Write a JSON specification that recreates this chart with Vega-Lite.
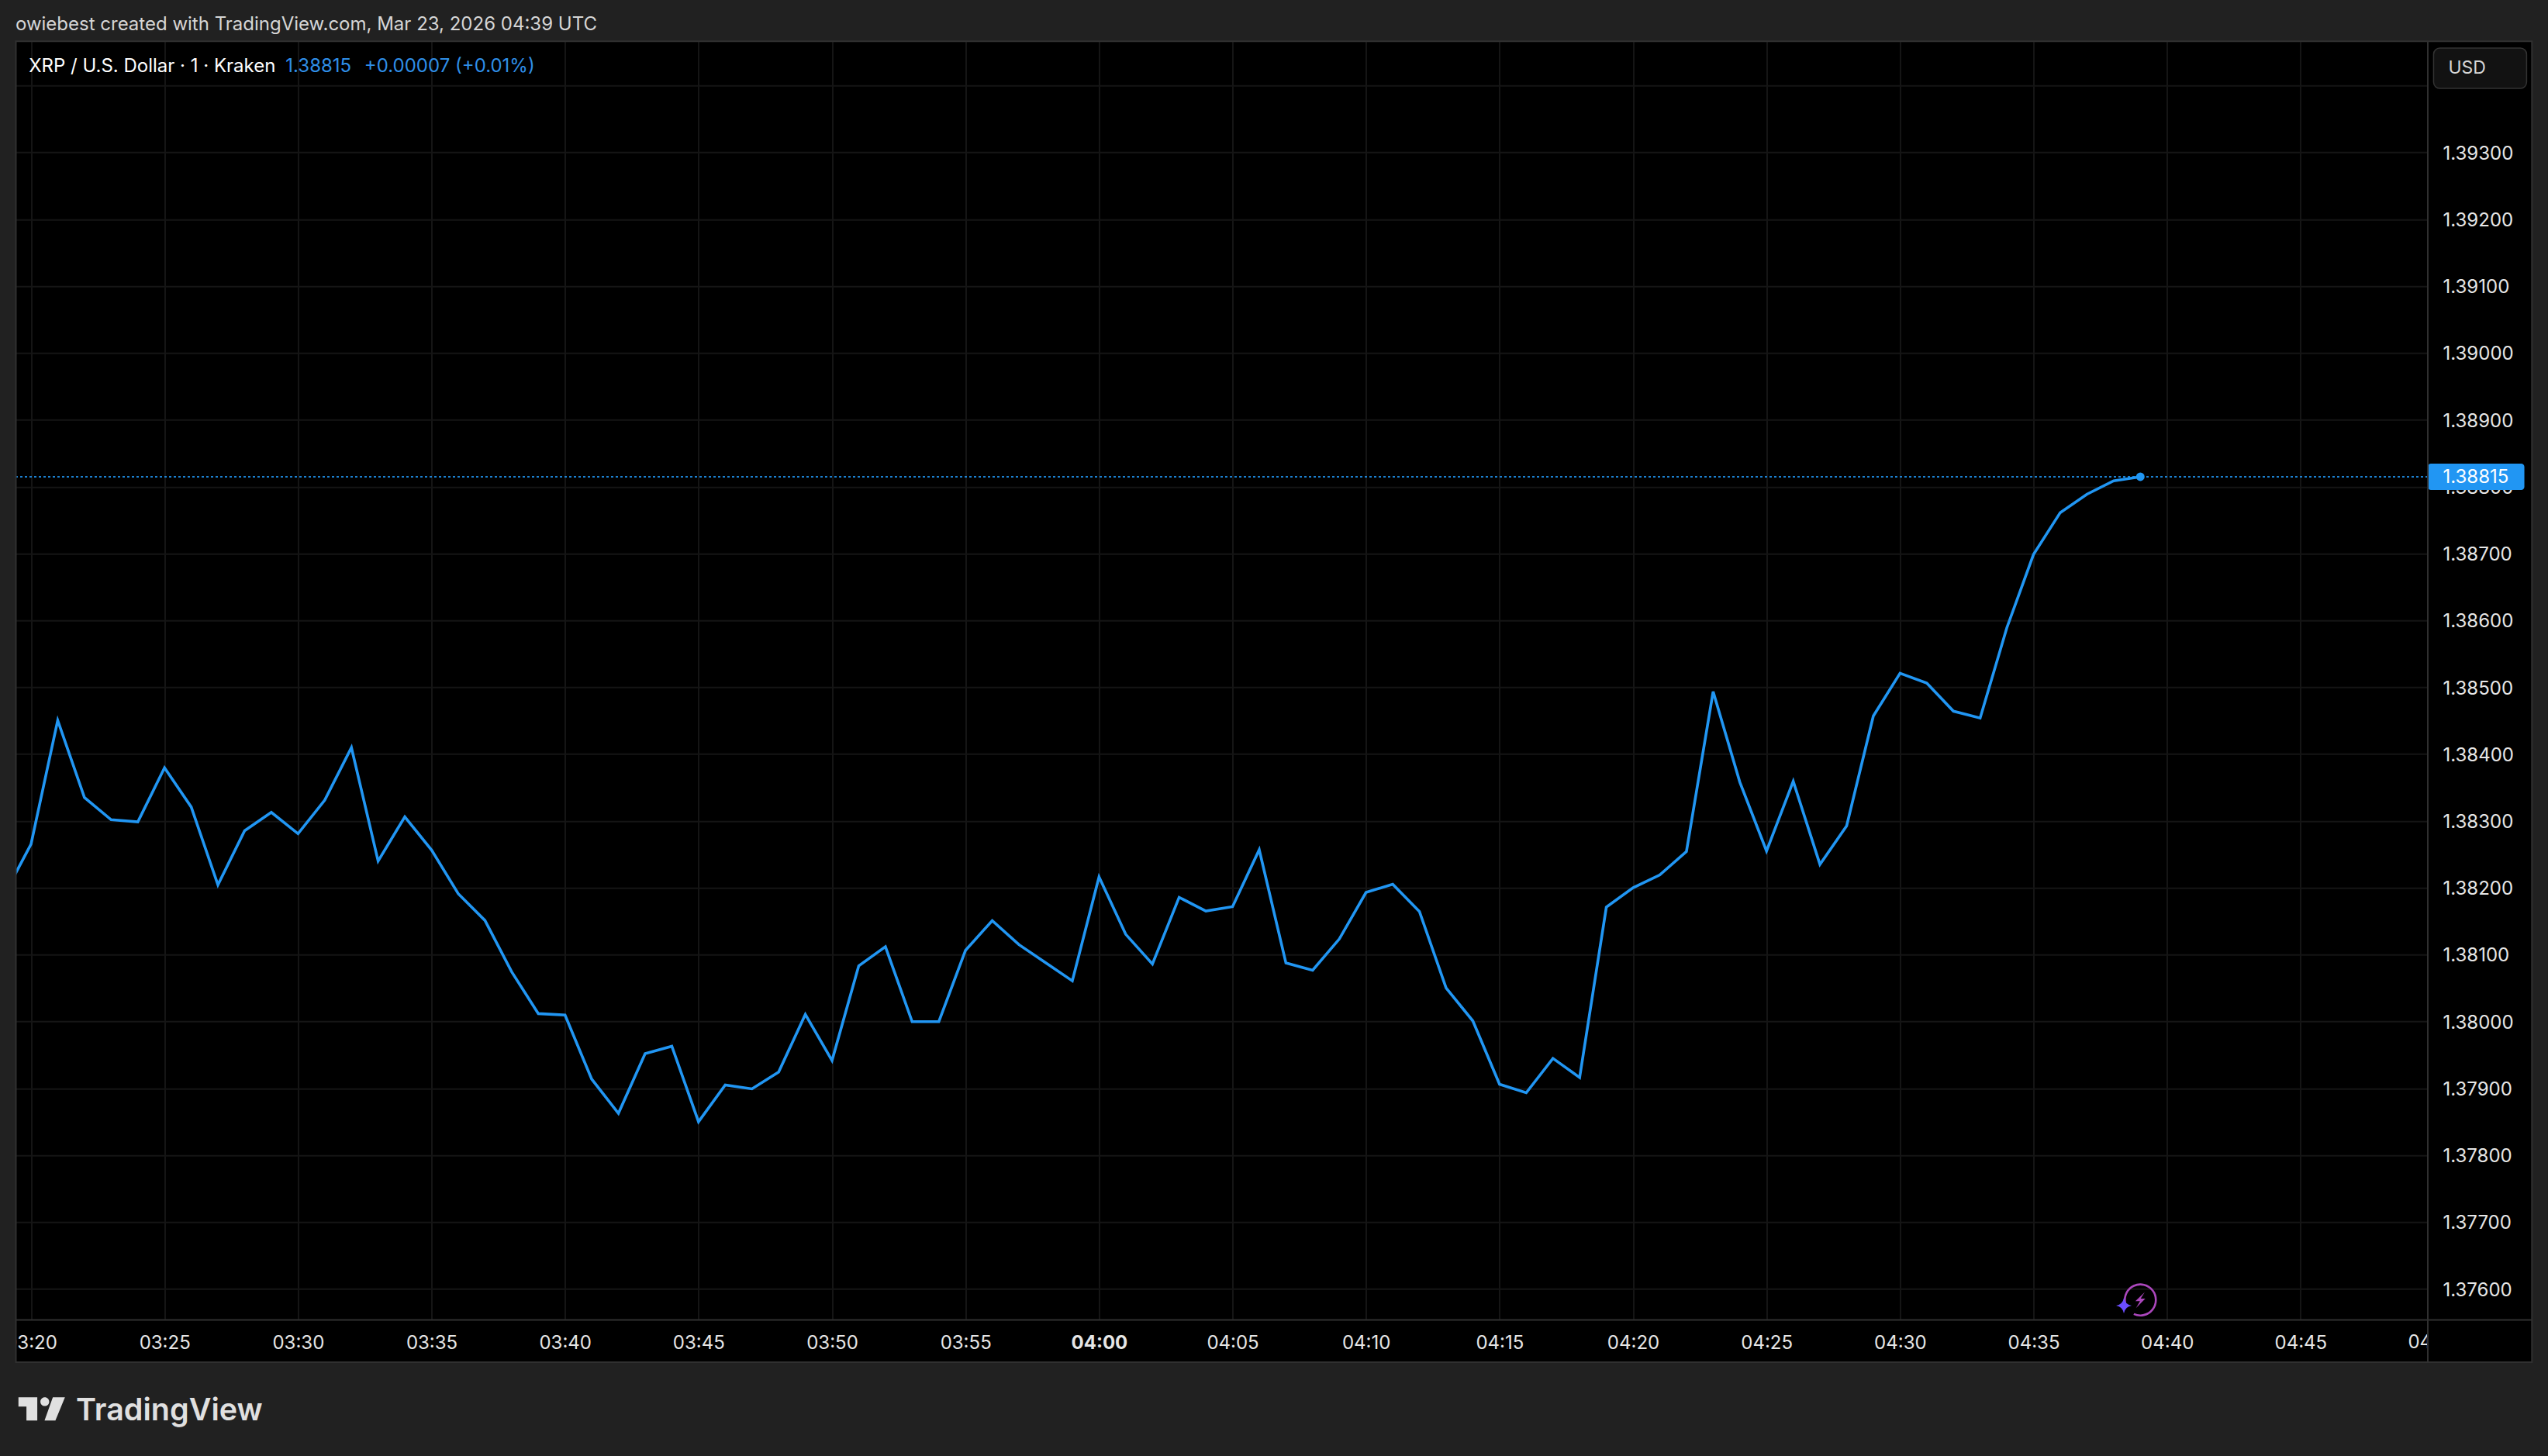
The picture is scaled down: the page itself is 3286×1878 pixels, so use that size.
{"$schema": "https://vega.github.io/schema/vega-lite/v6.json",
  "width": 3110.5,
  "height": 1649.2,
  "autosize": "none",
  "padding": {"left": 20.5, "top": 53.3, "right": 155, "bottom": 175.5},
  "background": "#000000",
  "config": {"view": {"stroke": null}, "font": "Inter"},
  "datasets": {
    "one": [{}],
    "quote": [
      {"time": "2026-03-23T03:19:00Z", "price": 1.3819},
      {"time": "2026-03-23T03:20:00Z", "price": 1.382655},
      {"time": "2026-03-23T03:21:00Z", "price": 1.384507},
      {"time": "2026-03-23T03:22:00Z", "price": 1.383353},
      {"time": "2026-03-23T03:23:00Z", "price": 1.38302},
      {"time": "2026-03-23T03:24:00Z", "price": 1.382988},
      {"time": "2026-03-23T03:25:00Z", "price": 1.383797},
      {"time": "2026-03-23T03:26:00Z", "price": 1.38321},
      {"time": "2026-03-23T03:27:00Z", "price": 1.382047},
      {"time": "2026-03-23T03:28:00Z", "price": 1.382855},
      {"time": "2026-03-23T03:29:00Z", "price": 1.383131},
      {"time": "2026-03-23T03:30:00Z", "price": 1.382811},
      {"time": "2026-03-23T03:31:00Z", "price": 1.383313},
      {"time": "2026-03-23T03:32:00Z", "price": 1.384099},
      {"time": "2026-03-23T03:33:00Z", "price": 1.382402},
      {"time": "2026-03-23T03:34:00Z", "price": 1.383064},
      {"time": "2026-03-23T03:35:00Z", "price": 1.382567},
      {"time": "2026-03-23T03:36:00Z", "price": 1.381914},
      {"time": "2026-03-23T03:37:00Z", "price": 1.381514},
      {"time": "2026-03-23T03:38:00Z", "price": 1.380746},
      {"time": "2026-03-23T03:39:00Z", "price": 1.38012},
      {"time": "2026-03-23T03:40:00Z", "price": 1.380098},
      {"time": "2026-03-23T03:41:00Z", "price": 1.379139},
      {"time": "2026-03-23T03:42:00Z", "price": 1.378628},
      {"time": "2026-03-23T03:43:00Z", "price": 1.37952},
      {"time": "2026-03-23T03:44:00Z", "price": 1.379632},
      {"time": "2026-03-23T03:45:00Z", "price": 1.378503},
      {"time": "2026-03-23T03:46:00Z", "price": 1.379052},
      {"time": "2026-03-23T03:47:00Z", "price": 1.378994},
      {"time": "2026-03-23T03:48:00Z", "price": 1.379245},
      {"time": "2026-03-23T03:49:00Z", "price": 1.380108},
      {"time": "2026-03-23T03:50:00Z", "price": 1.379419},
      {"time": "2026-03-23T03:51:00Z", "price": 1.380835},
      {"time": "2026-03-23T03:52:00Z", "price": 1.381121},
      {"time": "2026-03-23T03:53:00Z", "price": 1.38},
      {"time": "2026-03-23T03:54:00Z", "price": 1.38},
      {"time": "2026-03-23T03:55:00Z", "price": 1.381067},
      {"time": "2026-03-23T03:56:00Z", "price": 1.381511},
      {"time": "2026-03-23T03:57:00Z", "price": 1.381152},
      {"time": "2026-03-23T03:58:00Z", "price": 1.380881},
      {"time": "2026-03-23T03:59:00Z", "price": 1.38061},
      {"time": "2026-03-23T04:00:00Z", "price": 1.382165},
      {"time": "2026-03-23T04:01:00Z", "price": 1.381306},
      {"time": "2026-03-23T04:02:00Z", "price": 1.380862},
      {"time": "2026-03-23T04:03:00Z", "price": 1.381859},
      {"time": "2026-03-23T04:04:00Z", "price": 1.381654},
      {"time": "2026-03-23T04:05:00Z", "price": 1.38172},
      {"time": "2026-03-23T04:06:00Z", "price": 1.382571},
      {"time": "2026-03-23T04:07:00Z", "price": 1.380877},
      {"time": "2026-03-23T04:08:00Z", "price": 1.380769},
      {"time": "2026-03-23T04:09:00Z", "price": 1.381237},
      {"time": "2026-03-23T04:10:00Z", "price": 1.381933},
      {"time": "2026-03-23T04:11:00Z", "price": 1.382056},
      {"time": "2026-03-23T04:12:00Z", "price": 1.381647},
      {"time": "2026-03-23T04:13:00Z", "price": 1.380502},
      {"time": "2026-03-23T04:14:00Z", "price": 1.380011},
      {"time": "2026-03-23T04:15:00Z", "price": 1.379063},
      {"time": "2026-03-23T04:16:00Z", "price": 1.378936},
      {"time": "2026-03-23T04:17:00Z", "price": 1.37945},
      {"time": "2026-03-23T04:18:00Z", "price": 1.379164},
      {"time": "2026-03-23T04:19:00Z", "price": 1.381712},
      {"time": "2026-03-23T04:20:00Z", "price": 1.382002},
      {"time": "2026-03-23T04:21:00Z", "price": 1.382194},
      {"time": "2026-03-23T04:22:00Z", "price": 1.382544},
      {"time": "2026-03-23T04:23:00Z", "price": 1.384936},
      {"time": "2026-03-23T04:24:00Z", "price": 1.383582},
      {"time": "2026-03-23T04:25:00Z", "price": 1.382552},
      {"time": "2026-03-23T04:26:00Z", "price": 1.383595},
      {"time": "2026-03-23T04:27:00Z", "price": 1.382352},
      {"time": "2026-03-23T04:28:00Z", "price": 1.382929},
      {"time": "2026-03-23T04:29:00Z", "price": 1.384572},
      {"time": "2026-03-23T04:30:00Z", "price": 1.385211},
      {"time": "2026-03-23T04:31:00Z", "price": 1.385065},
      {"time": "2026-03-23T04:32:00Z", "price": 1.384643},
      {"time": "2026-03-23T04:33:00Z", "price": 1.384541},
      {"time": "2026-03-23T04:34:00Z", "price": 1.385891},
      {"time": "2026-03-23T04:35:00Z", "price": 1.386988},
      {"time": "2026-03-23T04:36:00Z", "price": 1.387614},
      {"time": "2026-03-23T04:37:00Z", "price": 1.387889},
      {"time": "2026-03-23T04:38:00Z", "price": 1.388089},
      {"time": "2026-03-23T04:39:00Z", "price": 1.38815}
    ]
  },
  "layer": [
    {
      "data": {"name": "quote"},
      "mark": {"type": "line", "color": "#2196f3", "strokeWidth": 3.6, "clip": true},
      "encoding": {
        "x": {
          "field": "time",
          "type": "temporal",
          "scale": {"type": "utc", "domain": ["2026-03-23T03:19:26Z", "2026-03-23T04:49:46Z"]},
          "axis": {
            "title": null,
            "labelExpr": "utcFormat(datum.value, '%H:%M')",
            "values": ["2026-03-23T03:20:00Z", "2026-03-23T03:25:00Z", "2026-03-23T03:30:00Z", "2026-03-23T03:35:00Z", "2026-03-23T03:40:00Z", "2026-03-23T03:45:00Z", "2026-03-23T03:50:00Z", "2026-03-23T03:55:00Z", "2026-03-23T04:00:00Z", "2026-03-23T04:05:00Z", "2026-03-23T04:10:00Z", "2026-03-23T04:15:00Z", "2026-03-23T04:20:00Z", "2026-03-23T04:25:00Z", "2026-03-23T04:30:00Z", "2026-03-23T04:35:00Z", "2026-03-23T04:40:00Z", "2026-03-23T04:45:00Z"],
            "domain": false,
            "ticks": false,
            "grid": true,
            "gridColor": "#151515",
            "gridWidth": 2,
            "labelColor": "#e6e6e6",
            "labelFont": "Inter",
            "labelFontSize": 24,
            "labelFontWeight": {"condition": {"test": "utcminutes(datum.value) == 0", "value": "bold"}, "value": "normal"},
            "labelPadding": 30,
            "labelBaseline": "middle",
            "labelAngle": 0,
            "labelOverlap": false,
            "labelBound": false,
            "labelFlush": false
          }
        },
        "y": {
          "field": "price",
          "type": "quantitative",
          "scale": {"domain": [1.375538, 1.394663], "nice": false, "zero": false},
          "axis": {
            "title": null,
            "orient": "right",
            "values": [1.376, 1.377, 1.378, 1.379, 1.38, 1.381, 1.382, 1.383, 1.384, 1.385, 1.386, 1.387, 1.388, 1.389, 1.39, 1.391, 1.392, 1.393, 1.394],
            "labelExpr": "datum.value > 1.3935 ? '' : format(datum.value, '.5f')",
            "domain": false,
            "ticks": false,
            "grid": true,
            "gridColor": "#151515",
            "gridWidth": 2,
            "labelColor": "#e6e6e6",
            "labelFont": "Inter",
            "labelFontSize": 24,
            "labelOffset": 1.5,
            "labelPadding": 19,
            "labelOverlap": false,
            "labelBound": false
          }
        }
      }
    },
    {
      "data": {"name": "one"},
      "mark": {"type": "rule", "color": "#2196f3", "strokeWidth": 2, "strokeDash": [3, 3], "opacity": 0.85},
      "encoding": {"y": {"datum": 1.38815}}
    },
    {
      "data": {"name": "quote"},
      "transform": [{"filter": "datum.price == 1.38815"}],
      "mark": {"type": "point", "shape": "circle", "filled": true, "size": 120, "color": "#2196f3", "opacity": 1},
      "encoding": {"x": {"field": "time", "type": "temporal"}, "y": {"field": "price", "type": "quantitative"}}
    },
    {
      "data": {"name": "one"},
      "mark": {"type": "rect", "color": "#2196f3", "cornerRadius": 4},
      "encoding": {
        "x": {"datum": {"year": 2026, "month": 3, "date": 23, "hours": 4, "minutes": 49, "seconds": 46, "utc": true}, "type": "temporal"},
        "x2": {"datum": {"year": 2026, "month": 3, "date": 23, "hours": 4, "minutes": 53, "seconds": 23, "utc": true}},
        "y": {"datum": 1.388346},
        "y2": {"datum": 1.387952}
      }
    },
    {
      "data": {"name": "one"},
      "mark": {"type": "text", "text": "1.38815", "align": "left", "baseline": "middle", "dy": 1.5, "font": "Inter", "fontSize": 24, "color": "#ffffff"},
      "encoding": {"x": {"datum": {"year": 2026, "month": 3, "date": 23, "hours": 4, "minutes": 50, "seconds": 20, "utc": true}, "type": "temporal"}, "y": {"datum": 1.38815}}
    },
    {
      "data": {"name": "one"},
      "mark": {"type": "text", "text": "04:50", "align": "center", "baseline": "middle", "font": "Inter", "fontSize": 24, "color": "#e6e6e6"},
      "encoding": {"x": {"datum": {"year": 2026, "month": 3, "date": 23, "hours": 4, "minutes": 50, "utc": true}, "type": "temporal"}, "y": {"datum": 1.3752}}
    },
    {
      "data": {"name": "one"},
      "mark": {"type": "rect", "color": "#000000"},
      "encoding": {
        "x": {"datum": {"year": 2026, "month": 3, "date": 23, "hours": 4, "minutes": 49, "seconds": 46, "utc": true}, "type": "temporal"},
        "x2": {"datum": {"year": 2026, "month": 3, "date": 23, "hours": 4, "minutes": 53, "seconds": 40, "utc": true}},
        "y": {"datum": 1.375538},
        "y2": {"datum": 1.374906}
      }
    },
    {
      "data": {"name": "one"},
      "mark": {"type": "rect", "color": "#212121"},
      "encoding": {
        "x": {"datum": {"year": 2026, "month": 3, "date": 23, "hours": 3, "minutes": 18, "seconds": 50, "utc": true}, "type": "temporal"},
        "x2": {"datum": {"year": 2026, "month": 3, "date": 23, "hours": 4, "minutes": 54, "seconds": 16, "utc": true}},
        "y": {"datum": 1.395281},
        "y2": {"datum": 1.394663}
      }
    },
    {
      "data": {"name": "one"},
      "mark": {"type": "rect", "color": "#212121"},
      "encoding": {
        "x": {"datum": {"year": 2026, "month": 3, "date": 23, "hours": 3, "minutes": 18, "seconds": 50, "utc": true}, "type": "temporal"},
        "x2": {"datum": {"year": 2026, "month": 3, "date": 23, "hours": 4, "minutes": 54, "seconds": 16, "utc": true}},
        "y": {"datum": 1.374906},
        "y2": {"datum": 1.373503}
      }
    },
    {
      "data": {"name": "one"},
      "mark": {"type": "rect", "color": "#212121"},
      "encoding": {
        "x": {"datum": {"year": 2026, "month": 3, "date": 23, "hours": 3, "minutes": 18, "seconds": 50, "utc": true}, "type": "temporal"},
        "x2": {"datum": {"year": 2026, "month": 3, "date": 23, "hours": 3, "minutes": 19, "seconds": 26, "utc": true}},
        "y": {"datum": 1.395281},
        "y2": {"datum": 1.373503}
      }
    },
    {
      "data": {"name": "one"},
      "mark": {"type": "rect", "color": "#212121"},
      "encoding": {
        "x": {"datum": {"year": 2026, "month": 3, "date": 23, "hours": 4, "minutes": 53, "seconds": 40, "utc": true}, "type": "temporal"},
        "x2": {"datum": {"year": 2026, "month": 3, "date": 23, "hours": 4, "minutes": 54, "seconds": 16, "utc": true}},
        "y": {"datum": 1.395281},
        "y2": {"datum": 1.373503}
      }
    },
    {
      "data": {"name": "one"},
      "mark": {"type": "rect", "fillOpacity": 0, "stroke": "#303030", "strokeWidth": 2},
      "encoding": {
        "x": {"datum": {"year": 2026, "month": 3, "date": 23, "hours": 3, "minutes": 19, "seconds": 26, "utc": true}, "type": "temporal"},
        "x2": {"datum": {"year": 2026, "month": 3, "date": 23, "hours": 4, "minutes": 53, "seconds": 40, "utc": true}},
        "y": {"datum": 1.394663},
        "y2": {"datum": 1.374906}
      }
    },
    {
      "data": {"name": "one"},
      "mark": {"type": "rule", "color": "#303030", "strokeWidth": 2},
      "encoding": {
        "x": {"datum": {"year": 2026, "month": 3, "date": 23, "hours": 4, "minutes": 49, "seconds": 46, "utc": true}, "type": "temporal"},
        "y": {"datum": 1.394663},
        "y2": {"datum": 1.374906}
      }
    },
    {
      "data": {"name": "one"},
      "mark": {"type": "rule", "color": "#303030", "strokeWidth": 2},
      "encoding": {
        "x": {"datum": {"year": 2026, "month": 3, "date": 23, "hours": 3, "minutes": 19, "seconds": 26, "utc": true}, "type": "temporal"},
        "x2": {"datum": {"year": 2026, "month": 3, "date": 23, "hours": 4, "minutes": 53, "seconds": 40, "utc": true}},
        "y": {"datum": 1.375538}
      }
    },
    {
      "data": {"name": "one"},
      "mark": {"type": "rect", "color": "#121212", "stroke": "#333333", "strokeWidth": 1.5, "cornerRadius": 8},
      "encoding": {
        "x": {"datum": {"year": 2026, "month": 3, "date": 23, "hours": 4, "minutes": 49, "seconds": 59, "utc": true}, "type": "temporal"},
        "x2": {"datum": {"year": 2026, "month": 3, "date": 23, "hours": 4, "minutes": 53, "seconds": 28, "utc": true}},
        "y": {"datum": 1.394562},
        "y2": {"datum": 1.393959}
      }
    },
    {
      "data": {"name": "one"},
      "mark": {"type": "text", "text": "USD", "align": "left", "baseline": "middle", "font": "Inter", "fontSize": 23, "color": "#d6d6d6"},
      "encoding": {"x": {"datum": {"year": 2026, "month": 3, "date": 23, "hours": 4, "minutes": 50, "seconds": 32, "utc": true}, "type": "temporal"}, "y": {"datum": 1.39426}}
    },
    {
      "data": {"name": "one"},
      "mark": {"type": "text", "text": "owiebest created with TradingView.com, Mar 23, 2026 04:39 UTC", "align": "left", "baseline": "middle", "font": "Inter", "fontSize": 24, "color": "#d6d6d6"},
      "encoding": {"x": {"datum": {"year": 2026, "month": 3, "date": 23, "hours": 3, "minutes": 19, "seconds": 25, "utc": true}, "type": "temporal"}, "y": {"datum": 1.39491}}
    },
    {
      "data": {"name": "one"},
      "mark": {"type": "text", "text": "XRP / U.S. Dollar · 1 · Kraken", "align": "left", "baseline": "middle", "font": "Inter", "fontSize": 24, "color": "#ffffff"},
      "encoding": {"x": {"datum": {"year": 2026, "month": 3, "date": 23, "hours": 3, "minutes": 19, "seconds": 55, "utc": true}, "type": "temporal"}, "y": {"datum": 1.394284}}
    },
    {
      "data": {"name": "one"},
      "mark": {"type": "text", "text": "1.38815", "align": "left", "baseline": "middle", "font": "Inter", "fontSize": 24, "color": "#2f8fe8"},
      "encoding": {"x": {"datum": {"year": 2026, "month": 3, "date": 23, "hours": 3, "minutes": 29, "seconds": 32, "utc": true}, "type": "temporal"}, "y": {"datum": 1.394284}}
    },
    {
      "data": {"name": "one"},
      "mark": {"type": "text", "text": "+0.00007 (+0.01%)", "align": "left", "baseline": "middle", "font": "Inter", "fontSize": 24, "color": "#2f8fe8"},
      "encoding": {"x": {"datum": {"year": 2026, "month": 3, "date": 23, "hours": 3, "minutes": 32, "seconds": 29, "utc": true}, "type": "temporal"}, "y": {"datum": 1.394284}}
    },
    {
      "data": {"name": "one"},
      "mark": {"type": "point", "shape": "M -0.42 0.91 A 1 1 0 1 0 -0.98 0.2", "filled": false, "size": 1600, "stroke": "#ab47bc", "strokeWidth": 2.6, "opacity": 1},
      "encoding": {"x": {"datum": {"year": 2026, "month": 3, "date": 23, "hours": 4, "minutes": 39, "utc": true}, "type": "temporal"}, "y": {"datum": 1.375838}}
    },
    {
      "data": {"name": "one"},
      "mark": {"type": "point", "shape": "M 0.28 -0.5 L -0.32 0.08 L -0.02 0.08 L -0.28 0.53 L 0.32 -0.08 L 0.02 -0.08 Z", "filled": true, "size": 1600, "color": "#ab47bc", "opacity": 1},
      "encoding": {"x": {"datum": {"year": 2026, "month": 3, "date": 23, "hours": 4, "minutes": 39, "utc": true}, "type": "temporal"}, "y": {"datum": 1.375838}}
    },
    {
      "data": {"name": "one"},
      "mark": {"type": "point", "shape": "M 0 -1 Q 0.15 -0.15 1 0 Q 0.15 0.15 0 1 Q -0.15 0.15 -1 0 Q -0.15 -0.15 0 -1 Z", "filled": true, "size": 400, "color": "#6a4dff", "opacity": 1},
      "encoding": {"x": {"datum": {"year": 2026, "month": 3, "date": 23, "hours": 4, "minutes": 38, "seconds": 23, "utc": true}, "type": "temporal"}, "y": {"datum": 1.375753}}
    },
    {
      "data": {"name": "one"},
      "mark": {"type": "point", "shape": "M -1 -0.5 L -0.19 -0.5 L -0.19 0.5 L -0.656 0.5 L -0.656 -0.1 L -1 -0.1 Z M -0.056 -0.311 A 0.189 0.189 0 1 0 0.322 -0.311 A 0.189 0.189 0 1 0 -0.056 -0.311 Z M 0.478 -0.5 L 1 -0.5 L 0.589 0.5 L 0.122 0.5 Z", "filled": true, "size": 3600, "color": "#e0e0e0", "opacity": 1},
      "encoding": {"x": {"datum": {"year": 2026, "month": 3, "date": 23, "hours": 3, "minutes": 20, "seconds": 24, "utc": true}, "type": "temporal"}, "y": {"datum": 1.374207}}
    },
    {
      "data": {"name": "one"},
      "mark": {"type": "text", "text": "TradingView", "align": "left", "baseline": "alphabetic", "font": "Inter", "fontSize": 39.5, "fontWeight": 600, "color": "#e0e0e0"},
      "encoding": {"x": {"datum": {"year": 2026, "month": 3, "date": 23, "hours": 3, "minutes": 21, "seconds": 41, "utc": true}, "type": "temporal"}, "y": {"datum": 1.374037}}
    }
  ]
}
